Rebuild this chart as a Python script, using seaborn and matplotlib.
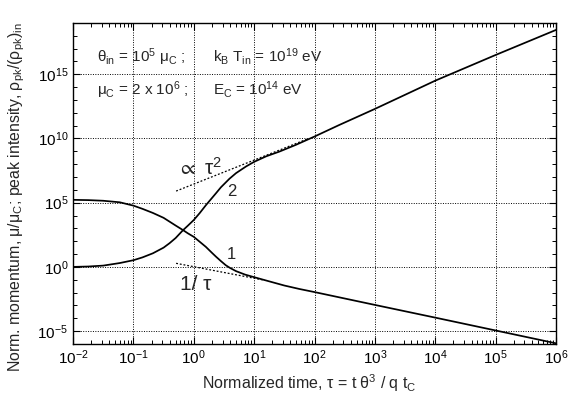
import numpy as np
import pandas as pd
import matplotlib
matplotlib.use('Agg')
import matplotlib.pyplot as plt
import matplotlib.ticker as mticker
import seaborn as sns

# Curve 1: normalized momentum (log10 values)
c1_logtau = [-2.0, -1.75, -1.5, -1.226, -1.0, -0.85, -0.677, -0.5, -0.4, -0.3,
             -0.18, -0.1, 0.0, 0.1, 0.2, 0.3, 0.367, 0.45, 0.53, 0.6,
             0.7, 0.85, 1.0, 1.245, 1.5, 1.75, 2.0, 3.0, 4.0, 5.0, 6.0]
c1_logval = [5.22, 5.2, 5.15, 5.03, 4.77, 4.52, 4.2, 3.82, 3.52, 3.22,
             2.87, 2.62, 2.34, 1.95, 1.56, 1.1, 0.8, 0.45, 0.13, -0.08,
             -0.33, -0.6, -0.8, -1.12, -1.45, -1.72, -1.96, -2.96, -3.95, -4.95, -5.95]

# Curve 2: peak intensity
c2_logtau = [-2.0, -1.75, -1.5, -1.226, -1.0, -0.85, -0.677, -0.5, -0.4, -0.3,
             -0.18, -0.1, 0.0, 0.1, 0.2, 0.315, 0.367, 0.45, 0.59, 0.7,
             0.866, 1.0, 1.2, 1.42, 1.69, 2.0, 2.41, 3.0, 4.0, 5.0, 6.0]
c2_logval = [0.0, 0.03, 0.1, 0.3, 0.52, 0.74, 1.06, 1.5, 1.85, 2.25,
             2.85, 3.2, 3.65, 4.2, 4.8, 5.44, 5.73, 6.2, 6.86, 7.3,
             7.82, 8.18, 8.61, 8.98, 9.5, 10.15, 11.05, 12.3, 14.5, 16.5, 18.45]

# Asymptotes (end points)
asym2_tau = [0.51, 80.0]
asym2_val = [8.0e5, 1.0e10]
asym1_tau = [0.51, 15.0]
asym1_val = [1.9, 0.091]

df1 = pd.DataFrame({'tau': 10 ** np.array(c1_logtau), 'val': 10 ** np.array(c1_logval)})
df2 = pd.DataFrame({'tau': 10 ** np.array(c2_logtau), 'val': 10 ** np.array(c2_logval)})

sns.set_style('ticks')
plt.rcParams['font.family'] = ['Liberation Sans', 'DejaVu Sans']
plt.rcParams['mathtext.fontset'] = 'custom'
plt.rcParams['mathtext.rm'] = 'Liberation Sans'
plt.rcParams['mathtext.it'] = 'Liberation Sans'
plt.rcParams['mathtext.default'] = 'regular'

fig = plt.figure(figsize=(5.75, 3.94), dpi=100)
fig.subplots_adjust(left=0.127, right=0.967, bottom=0.127, top=0.942)
ax = fig.add_subplot(111)

sns.lineplot(data=df1, x='tau', y='val', ax=ax, color='k', lw=1.25, sort=False)
sns.lineplot(data=df2, x='tau', y='val', ax=ax, color='k', lw=1.25, sort=False)
ax.plot(asym2_tau, asym2_val, color='k', lw=0.9, ls=(0, (1.5, 1.5)))
ax.plot(asym1_tau, asym1_val, color='k', lw=0.9, ls=(0, (1.5, 1.5)))

ax.set_xscale('log')
ax.set_yscale('log')
ax.set_xlim(1e-2, 1e6)
ax.set_ylim(1e-6, 1e19)

ax.xaxis.set_major_locator(mticker.LogLocator(base=10, numticks=20))
ax.xaxis.set_minor_locator(mticker.LogLocator(base=10, subs=np.arange(2, 10), numticks=20))
ax.xaxis.set_minor_formatter(mticker.NullFormatter())
ax.set_yticks([1e-5, 1e0, 1e5, 1e10, 1e15])
ax.yaxis.set_minor_locator(mticker.FixedLocator([10.0 ** k for k in range(-6, 20)]))
ax.yaxis.set_minor_formatter(mticker.NullFormatter())

ax.tick_params(which='both', direction='in', top=True, right=True, labelsize=11, colors='k')
ax.tick_params(which='major', length=5, width=0.8)
ax.tick_params(which='minor', length=3, width=0.7)
ax.grid(which='major', ls=(0, (1, 1.5)), color='k', lw=0.7)
for s in ax.spines.values():
    s.set_color('k')
    s.set_linewidth(1.0)

ax.set_xlabel('Normalized time, τ = t θ$^3$ / q t$_C$', fontsize=11.5)
ax.xaxis.set_label_coords(0.49, -0.088)
ax.set_ylabel('')
fig.text(17 / 575, 1 - 197 / 394,
         'Norm. momentum, μ/μ$_C$; peak intensity, ρ$_{pk}$/(ρ$_{pk}$)$_{in}$',
         fontsize=11.4, rotation=90, ha='center', va='center')

ax.text(0.05, 0.894, 'θ$_{in}$ = 10$^5$ μ$_C$ ;', transform=ax.transAxes, fontsize=11, va='center')
ax.text(0.29, 0.894, 'k$_B$ T$_{in}$ = 10$^{19}$ eV', transform=ax.transAxes, fontsize=11, va='center')
ax.text(0.05, 0.791, 'μ$_C$ = 2 x 10$^6$ ;', transform=ax.transAxes, fontsize=11, va='center')
ax.text(0.29, 0.791, 'E$_C$ = 10$^{14}$ eV', transform=ax.transAxes, fontsize=11, va='center')

ax.text(1.22, 10 ** 7.73, r'$\propto$ τ$^2$', fontsize=15, ha='center', va='center')
ax.text(1.09, 10 ** -1.4, '1/ τ', fontsize=15, ha='center', va='center')
ax.text(10 ** 0.63, 10 ** 5.86, '2', fontsize=12, ha='center', va='center')
ax.text(10 ** 0.62, 10 ** 1.0, '1', fontsize=12, ha='center', va='center')

fig.savefig('out.png', dpi=100)
